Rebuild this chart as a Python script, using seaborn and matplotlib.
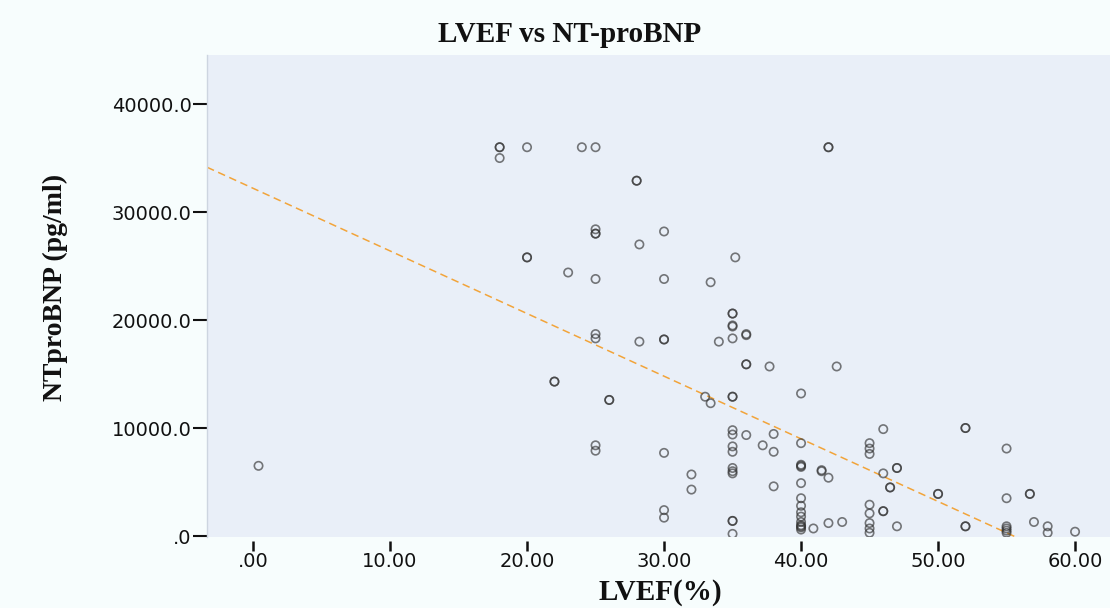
import numpy as np
import pandas as pd
import matplotlib
matplotlib.use("Agg")
import matplotlib.pyplot as plt
import seaborn as sns
from matplotlib.ticker import FuncFormatter

# =====================================================
# Data
# =====================================================

lvef = [
    18, 18, 18, 20, 24, 25, 42, 42, 28, 28,
    25, 25, 25, 30, 28.2, 20, 20, 35.2, 23, 25,
    30, 33.4, 35, 35, 35, 35, 36, 36, 34, 35,
    25, 25, 28.2, 30, 30, 36, 36, 37.7, 42.6, 22,
    22, 33, 33.4, 35, 35, 26, 26, 40, 0.4,
    35, 35, 36, 38, 35, 35, 37.2, 38, 40, 30,
    25, 25, 35, 35, 35, 40, 40, 40, 41.5, 41.5,
    42, 32, 32, 38, 40, 30, 30, 35, 35, 35,
    40, 40, 40, 40, 40, 40, 40, 40, 40, 40.9,
    42, 43, 46, 52, 52, 45, 45, 45, 46, 47,
    47, 46.5, 46.5, 50, 50, 45, 45, 46, 46, 45,
    45, 45, 47, 52, 52, 55, 55, 56.7, 56.7, 55,
    55, 55, 55, 57, 58, 58, 60,
]

ntprobnp = [
    36000, 36000, 35000, 36000, 36000, 36000, 36000, 36000, 32900, 32900,
    28400, 28000, 28000, 28200, 27000, 25800, 25800, 25800, 24400, 23800,
    23800, 23500, 20600, 20600, 19400, 19500, 18600, 18700, 18000, 18300,
    18700, 18300, 18000, 18200, 18200, 15900, 15900, 15700, 15700, 14300,
    14300, 12900, 12300, 12900, 12900, 12600, 12600, 13200, 6500,
    9800, 9400, 9350, 9450, 8300, 7800, 8400, 7800, 8600, 7700,
    8400, 7900, 6300, 6000, 5800, 6600, 6400, 6500, 6100, 6000,
    5400, 5700, 4300, 4600, 4900, 2400, 1700, 1400, 1400, 200,
    3500, 2800, 2200, 1800, 1300, 1000, 900, 800, 600, 700,
    1200, 1300, 9900, 10000, 10000, 8600, 8100, 7600, 5800, 6300,
    6300, 4500, 4500, 3900, 3900, 2900, 2100, 2300, 2300, 1200,
    700, 300, 900, 900, 900, 8100, 3500, 3900, 3900, 900,
    700, 500, 300, 1300, 900, 300, 400,
]

# linear fit line as drawn in the reference
fit_intercept = 32200
fit_slope = -580

x_ticks = [0, 10, 20, 30, 40, 50, 60]
y_ticks = [0, 10000, 20000, 30000, 40000]
x_range = [-3.36, 62.55]
y_range = [-90, 44540]

df = pd.DataFrame({"LVEF": lvef, "NTproBNP": ntprobnp})

# =====================================================
# Figure
# =====================================================

fig = plt.figure(figsize=(11.1, 6.08), dpi=100, facecolor="#F7FDFD")
ax = fig.add_axes([207 / 1110, 1 - 537 / 608, 903 / 1110, 482 / 608])
ax.set_facecolor("#E9EFF8")

sns.scatterplot(
    x="LVEF",
    y="NTproBNP",
    data=df,
    ax=ax,
    marker="o",
    s=36,
    facecolors="none",
    edgecolor="#333333",
    linewidth=1.2,
    alpha=0.65,
    zorder=3
)
ax.collections[0].set_facecolor("none")

fit_x = np.array(x_range)
fit = pd.DataFrame({"x": fit_x, "y": fit_intercept + fit_slope * fit_x})
sns.lineplot(
    x="x",
    y="y",
    data=fit,
    ax=ax,
    color="#F2A43A",
    linewidth=1.1,
    dashes=False,
    zorder=2
)
ax.lines[0].set_dashes([5, 3])

ax.set_xlim(x_range)
ax.set_ylim(y_range)
ax.set_xticks(x_ticks)
ax.set_yticks(y_ticks)
ax.xaxis.set_major_formatter(FuncFormatter(lambda v, p: f"{v:.2f}".lstrip("0")))
ax.yaxis.set_major_formatter(FuncFormatter(lambda v, p: f"{v:.1f}".lstrip("0")))

for side in ["top", "right"]:
    ax.spines[side].set_visible(False)
ax.spines["left"].set_color("#CDD5E0")
ax.spines["left"].set_linewidth(1)
ax.spines["bottom"].set_position(("outward", 3))
ax.spines["bottom"].set_visible(False)

ax.tick_params(axis="y", direction="out", length=10, width=1.5,
               color="#111111", labelsize=14, pad=1,
               labelcolor="#111111")
ax.tick_params(axis="x", direction="out", length=7, width=1.8,
               color="#111111", labelsize=14, pad=1,
               labelcolor="#111111")
for lab in ax.get_xticklabels() + ax.get_yticklabels():
    lab.set_fontfamily("DejaVu Sans")

ax.set_xlabel("")
ax.set_ylabel("")

fig.text(570 / 1110, 1 - 35 / 608, "LVEF vs NT-proBNP",
         ha="center", va="center", fontsize=21, fontweight="bold",
         family="Liberation Serif", color="#111111")
fig.text(660 / 1110, 1 - 592 / 608, "LVEF(%)",
         ha="center", va="center", fontsize=21, fontweight="bold",
         family="Liberation Serif", color="#111111")
fig.text(55 / 1110, 1 - 287 / 608, "NTproBNP (pg/ml)",
         ha="center", va="center", rotation=90, fontsize=20,
         fontweight="bold", family="Liberation Serif", color="#111111")

plt.savefig("out.png", dpi=100, facecolor=fig.get_facecolor())
plt.close()
